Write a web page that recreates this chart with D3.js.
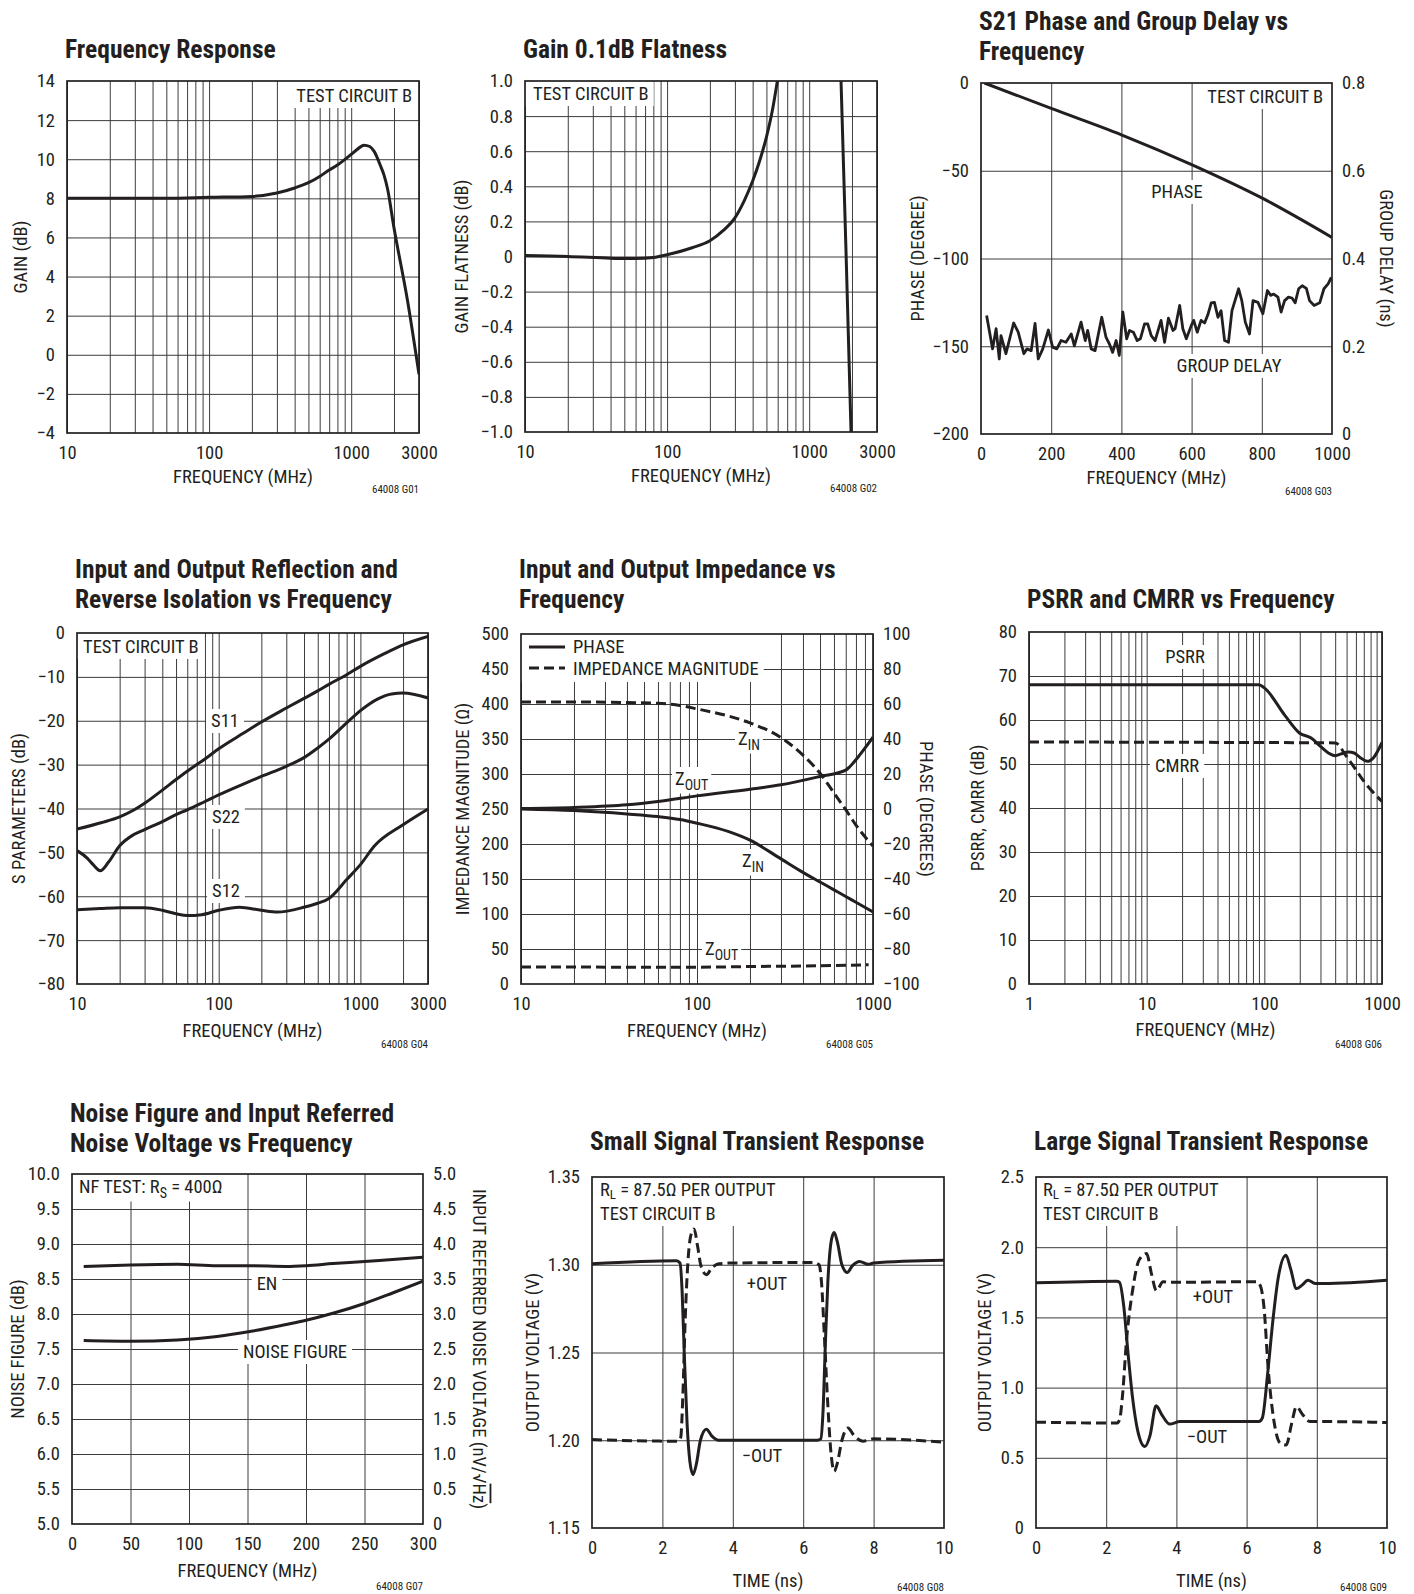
<!DOCTYPE html>
<html><head><meta charset="utf-8">
<script src="https://cdn.jsdelivr.net/npm/d3@7"></script>
<style>html,body{margin:0;padding:0;background:#fff}svg{display:block}</style>
</head><body>
<svg id="c" width="1414" height="1594"></svg>
<script>
// ================= DATA =================
// Panel 1: Frequency Response
const p1Freq = [10, 20, 50, 100, 200, 300, 400, 500, 600, 700, 800, 900, 1000, 1100, 1230, 1350, 1450, 1610, 1700, 1800, 2000, 2500, 3000];
const p1Gain = [8.0, 8.0, 8.0, 8.05, 8.1, 8.27, 8.53, 8.8, 9.12, 9.45, 9.7, 9.98, 10.25, 10.5, 10.72, 10.65, 10.4, 9.65, 9.2, 8.5, 6.5, 2.7, -1.0];
const p1XTicks = [10, 100, 1000, 3000];
const p1YTicks = [-4, -2, 0, 2, 4, 6, 8, 10, 12, 14];

// Panel 2: Gain 0.1dB Flatness
const p2FreqLo = [10, 20, 40, 50, 60, 80, 100, 150, 200, 250, 300, 350, 400, 450, 500, 550, 597];
const p2FlatLo = [0.005, 0.0, -0.01, -0.012, -0.012, -0.006, 0.01, 0.05, 0.09, 0.15, 0.22, 0.32, 0.43, 0.55, 0.68, 0.83, 1.0];
const p2FreqHi = [1675, 1820, 1970];
const p2FlatHi = [1.0, 0.0, -1.0];
const p2YTicks = [-1.0, -0.8, -0.6, -0.4, -0.2, 0, 0.2, 0.4, 0.6, 0.8, 1.0];

// Panel 3: S21 Phase and Group Delay
const p3PhaseFreq = [10, 200, 400, 600, 800, 1000];
const p3Phase = [0, -14.5, -29.5, -46.5, -65.5, -88];
const p3GdFreq = [16, 33, 43, 52, 57, 71, 93, 106, 122, 131, 143, 154, 163, 176, 192, 204, 216, 228, 242, 257, 266, 285, 297, 304, 314, 325, 344, 356, 366, 375, 385, 394, 404, 415, 423, 434, 445, 454, 466, 475, 485, 496, 513, 523, 534, 547, 553, 566, 575, 585, 599, 606, 616, 627, 637, 646, 656, 665, 675, 684, 694, 705, 715, 734, 743, 753, 765, 775, 789, 803, 816, 825, 834, 846, 855, 865, 876, 886, 895, 905, 915, 927, 936, 949, 965, 977, 989, 998];
const p3Gd = [0.27, 0.194, 0.24, 0.171, 0.224, 0.183, 0.253, 0.232, 0.183, 0.194, 0.19, 0.252, 0.171, 0.194, 0.237, 0.198, 0.194, 0.213, 0.209, 0.228, 0.201, 0.255, 0.213, 0.236, 0.194, 0.19, 0.266, 0.221, 0.205, 0.186, 0.213, 0.179, 0.278, 0.217, 0.236, 0.232, 0.213, 0.217, 0.251, 0.251, 0.224, 0.213, 0.259, 0.209, 0.264, 0.236, 0.24, 0.293, 0.24, 0.217, 0.247, 0.259, 0.232, 0.259, 0.253, 0.271, 0.299, 0.3, 0.266, 0.281, 0.213, 0.209, 0.281, 0.331, 0.304, 0.255, 0.228, 0.304, 0.3, 0.274, 0.327, 0.316, 0.319, 0.312, 0.278, 0.304, 0.312, 0.31, 0.299, 0.331, 0.338, 0.332, 0.304, 0.293, 0.299, 0.331, 0.342, 0.357];
const p3XTicks = [0, 200, 400, 600, 800, 1000];
const p3YTicks = [-200, -150, -100, -50, 0];
const p3Y2Ticks = [0, 0.2, 0.4, 0.6, 0.8];

// Panel 4: S parameters
const p4S11Freq = [10, 15, 20, 25, 30, 40, 50, 60, 80, 100, 150, 200, 300, 400, 500, 600, 800, 1000, 1500, 2000, 3000];
const p4S11 = [-44.7, -43.2, -41.9, -40.4, -38.8, -35.8, -33.4, -31.5, -28.7, -26.4, -22.8, -20.3, -17.1, -14.9, -13.2, -11.7, -9.5, -7.6, -4.6, -2.7, -0.8];
const p4S22Freq = [10, 11.8, 13, 14.6, 16.7, 20, 25, 30, 40, 50, 60, 80, 100, 145, 200, 300, 400, 500, 600, 800, 1000, 1330, 1660, 2000, 3000];
const p4S22 = [-49.6, -51.3, -52.8, -54.2, -52.2, -48.5, -46, -44.8, -43, -41.4, -40.3, -38.4, -36.9, -34.6, -32.7, -30.4, -28.4, -26.2, -24.2, -20.5, -17.7, -15, -13.9, -13.7, -14.8];
const p4S12Freq = [10, 14.6, 20, 30, 40, 50, 60, 76, 100, 140, 200, 260, 400, 500, 600, 800, 1000, 1250, 2000, 3000];
const p4S12 = [-63.1, -62.8, -62.6, -62.6, -63.2, -64, -64.4, -64.2, -63.2, -62.5, -63.2, -63.6, -62.5, -61.6, -60.5, -56.2, -52.8, -48.6, -43.7, -40.1];
const p4YTicks = [-80, -70, -60, -50, -40, -30, -20, -10, 0];

// Panel 5: Input and Output Impedance
const p5ZinFreq = [10, 20, 40, 60, 80, 100, 150, 200, 300, 400, 500, 600, 700, 800, 1000];
const p5ZinMag = [403, 403, 402, 401, 398, 393, 383, 373, 352, 327, 301, 273, 249, 227, 197];
const p5ZinPhase = [0, -0.9, -2.8, -4.3, -6, -8.1, -12.8, -17.8, -28.5, -36.2, -41.7, -46.2, -50.0, -53.3, -58.8];
const p5ZoutPhFreq = [10, 20, 40, 60, 100, 200, 300, 500, 700, 740, 850, 1000];
const p5ZoutPhase = [0.3, 0.9, 2.4, 4.3, 7.5, 11.3, 13.8, 18.6, 22.2, 24.3, 31.5, 41];
const p5ZoutMagFreq = [10, 100, 200, 500, 944];
const p5ZoutMag = [24.3, 24, 25, 26, 27.6];
const p5XTicks = [10, 100, 1000];
const p5YTicks = [0, 50, 100, 150, 200, 250, 300, 350, 400, 450, 500];
const p5Y2Ticks = [-100, -80, -60, -40, -20, 0, 20, 40, 60, 80, 100];

// Panel 6: PSRR and CMRR
const p6PsrrFreq = [1, 90, 100, 150, 200, 250, 300, 350, 400, 450, 520, 580, 650, 750, 850, 1000];
const p6Psrr = [68, 68, 67.3, 61, 57, 55.9, 54, 52.5, 51.9, 52.3, 52.7, 52.5, 51.5, 50.6, 51.5, 54.9];
const p6CmrrFreq = [1, 400, 500, 600, 700, 800, 1000];
const p6Cmrr = [55, 54.8, 51.7, 48.7, 46.1, 44.2, 41.5];
const p6XTicks = [1, 10, 100, 1000];
const p6YTicks = [0, 10, 20, 30, 40, 50, 60, 70, 80];

// Panel 7: Noise Figure and EN
const p7Freq = [10, 50, 90, 124, 152, 183, 200, 223, 250, 274, 300];
const p7En = [3.68, 3.70, 3.71, 3.69, 3.69, 3.68, 3.69, 3.72, 3.75, 3.78, 3.81];
const p7Nf = [7.62, 7.61, 7.63, 7.68, 7.75, 7.85, 7.91, 8.01, 8.15, 8.30, 8.47];
const p7XTicks = [0, 50, 100, 150, 200, 250, 300];
const p7YTicks = [5.0, 5.5, 6.0, 6.5, 7.0, 7.5, 8.0, 8.5, 9.0, 9.5, 10.0];
const p7Y2Ticks = [0, 0.5, 1.0, 1.5, 2.0, 2.5, 3.0, 3.5, 4.0, 4.5, 5.0];

// Panel 8: Small Signal Transient
const p8SolidT = [0, 2.4, 2.5, 2.56, 2.62, 2.7, 2.78, 2.87, 2.97, 3.08, 3.25, 3.4, 3.6, 4, 6.4, 6.5, 6.56, 6.63, 6.7, 6.8, 6.88, 6.97, 7.1, 7.25, 7.4, 7.6, 7.85, 8, 10];
const p8SolidV = [1.3006, 1.3023, 1.301, 1.285, 1.25, 1.21, 1.188, 1.1804, 1.187, 1.2, 1.2063, 1.2025, 1.2, 1.2, 1.2, 1.2008, 1.215, 1.255, 1.29, 1.314, 1.3184, 1.313, 1.3, 1.2956, 1.2995, 1.3019, 1.3003, 1.301, 1.3025];
const p8DashT = [0, 2, 2.45, 2.52, 2.58, 2.65, 2.72, 2.8, 2.9, 3.0, 3.1, 3.25, 3.4, 3.6, 4, 6.3, 6.45, 6.52, 6.6, 6.7, 6.78, 6.88, 6.97, 7.1, 7.27, 7.45, 7.7, 8, 10];
const p8DashV = [1.2004, 1.1995, 1.1995, 1.2015, 1.225, 1.27, 1.30, 1.316, 1.3204, 1.3105, 1.299, 1.2943, 1.2981, 1.3006, 1.301, 1.3013, 1.3, 1.29, 1.26, 1.22, 1.195, 1.1823, 1.187, 1.2, 1.207, 1.2025, 1.1995, 1.2008, 1.1989];
const p8XTicks = [0, 2, 4, 6, 8, 10];
const p8YTicks = [1.15, 1.20, 1.25, 1.30, 1.35];

// Panel 9: Large Signal Transient
const p9SolidT = [0, 2.3, 2.38, 2.5, 2.62, 2.75, 2.9, 3.1, 3.25, 3.42, 3.6, 3.81, 4.1, 6.35, 6.45, 6.6, 6.75, 6.9, 7.12, 7.25, 7.42, 7.58, 7.75, 7.95, 8.2, 10];
const p9SolidV = [1.746, 1.758, 1.75, 1.58, 1.25, 0.93, 0.69, 0.58, 0.66, 0.87, 0.80, 0.74, 0.758, 0.758, 0.785, 1.10, 1.48, 1.78, 1.943, 1.85, 1.705, 1.73, 1.765, 1.742, 1.742, 1.765];
const p9DashT = [0, 2.3, 2.38, 2.46, 2.58, 2.75, 2.94, 3.15, 3.29, 3.43, 3.62, 3.85, 6.3, 6.4, 6.5, 6.61, 6.76, 6.96, 7.13, 7.28, 7.42, 7.6, 7.8, 8.2, 10];
const p9DashV = [0.754, 0.747, 0.77, 0.93, 1.34, 1.69, 1.91, 1.955, 1.81, 1.69, 1.754, 1.75, 1.754, 1.72, 1.56, 1.15, 0.794, 0.604, 0.592, 0.74, 0.865, 0.806, 0.758, 0.758, 0.751];
const p9XTicks = [0, 2, 4, 6, 8, 10];
const p9YTicks = [0, 0.5, 1.0, 1.5, 2.0, 2.5];

// ================= DRAWING =================
const INK = '#231f20';
const GRID = '#3c3c3c';
const FONT = '"Liberation Sans Narrow","Arial Narrow","Roboto Condensed","DejaVu Sans Condensed",sans-serif';
const FS = 18.5;
const svg = d3.select('#c').attr('font-family', FONT).attr('fill', INK);
svg.append('rect').attr('width', 1414).attr('height', 1594).attr('fill', '#fff');
const defs = svg.append('defs');
let clipN = 0;

function logGrid(a, b) {
  const out = [];
  for (let e = Math.floor(Math.log10(a)); Math.pow(10, e) <= b * 1.0001; e++) {
    for (let k = 1; k < 10; k++) {
      const v = +(k * Math.pow(10, e)).toPrecision(6);
      if (v >= a * 0.9999 && v <= b * 1.0001) out.push(v);
    }
  }
  return out;
}
function fmt(dec) {
  return v => {
    if (Math.abs(v) < 1e-9) return '0';
    return (v < 0 ? '\u2212' : '') + Math.abs(v).toFixed(dec);
  };
}
function fmtKeep(dec) {
  return v => (v < -1e-9 ? '\u2212' : '') + Math.abs(v).toFixed(dec);
}
function styleAxis(a) {
  a.select('.domain').remove();
  a.attr('font-family', FONT).attr('font-size', FS);
  a.selectAll('text').attr('fill', INK);
}
// segs: strings, {sub}, {over}
function addSegs(t, segs, subDy = 4.5, subSize = 14) {
  let shift = 0;
  segs.forEach(s => {
    if (typeof s === 'string') {
      const ts = t.append('tspan').text(s);
      if (shift) { ts.attr('dy', -shift); shift = 0; }
    } else if (s.sub) {
      t.append('tspan').attr('dy', subDy).attr('font-size', subSize).text(s.sub);
      shift = subDy;
    } else if (s.over) {
      t.append('tspan').attr('text-decoration', 'overline').text(s.over);
    }
  });
  return t;
}

function makePanel(o) {
  const g = svg.append('g');
  const W = o.x1 - o.x0, H = o.y1 - o.y0;
  const P = { o, g };
  P.x = o.xScale.range([o.x0, o.x1]);
  P.y = o.yScale.range([o.y1, o.y0]);
  if (o.y2Scale) P.y2 = o.y2Scale.range([o.y1, o.y0]);
  const id = 'clip' + (++clipN);
  defs.append('clipPath').attr('id', id).append('rect')
    .attr('x', o.x0).attr('y', o.y0).attr('width', W).attr('height', H);

  const gx = g.append('g').attr('transform', `translate(0,${o.y1})`)
    .call(d3.axisBottom(P.x).tickValues(o.xGrid).tickSize(-H).tickFormat(''));
  const gy = g.append('g').attr('transform', `translate(${o.x0},0)`)
    .call(d3.axisLeft(P.y).tickValues(o.yGrid).tickSize(-W).tickFormat(''));
  [gx, gy].forEach(a => { a.select('.domain').remove(); a.selectAll('line').attr('stroke', GRID).attr('stroke-width', 1); });

  P.mask = g.append('g');
  g.append('rect').attr('x', o.x0).attr('y', o.y0).attr('width', W).attr('height', H)
    .attr('fill', 'none').attr('stroke', INK).attr('stroke-width', 1.7);
  P.data = g.append('g').attr('clip-path', `url(#${id})`);
  P.text = g.append('g').attr('font-size', FS);

  const lx = g.append('g').attr('transform', `translate(0,${o.y1})`)
    .call(d3.axisBottom(P.x).tickValues(o.xTicks).tickSize(0).tickPadding(13).tickFormat(o.xFmt || (v => String(v))));
  styleAxis(lx);
  const ly = g.append('g').attr('transform', `translate(${o.x0},0)`)
    .call(d3.axisLeft(P.y).tickValues(o.yTicks).tickSize(0).tickPadding(12).tickFormat(o.yFmt));
  styleAxis(ly);
  if (o.y2Scale) {
    const ly2 = g.append('g').attr('transform', `translate(${o.x1},0)`)
      .call(d3.axisRight(P.y2).tickValues(o.y2Ticks).tickSize(0).tickPadding(10).tickFormat(o.y2Fmt));
    styleAxis(ly2);
  }

  o.title.forEach((t, i) => g.append('text').attr('x', o.x0 - 2).attr('y', o.titleY + i * 29.5)
    .attr('font-weight', 'bold').attr('font-size', 25.5).attr('fill', INK).text(t));
  g.append('text').attr('x', (o.x0 + o.x1) / 2).attr('y', o.y1 + o.xtDy)
    .attr('text-anchor', 'middle').attr('font-size', FS).attr('fill', INK).text(o.xTitle);
  const cy = (o.y0 + o.y1) / 2;
  addSegs(g.append('text').attr('transform', `translate(${o.ytX + 6.6},${cy}) rotate(-90)`)
    .attr('text-anchor', 'middle').attr('font-size', FS).attr('fill', INK), o.yTitle);
  if (o.y2Title) {
    addSegs(g.append('text').attr('transform', `translate(${o.y2tX - 6.6},${cy}) rotate(90)`)
      .attr('text-anchor', 'middle').attr('font-size', FS).attr('fill', INK), o.y2Title);
  }
  g.append('text').attr('x', o.x1).attr('y', Math.min(o.y1 + o.footDy, 1591))
    .attr('text-anchor', 'end').attr('font-size', 11).attr('fill', INK).text(o.foot);
  return P;
}

// lines: array of seg-arrays, each line its own text element
function note(P, x, y, lines, opt = {}) {
  const o = P.o;
  const grp = P.text.append('g');
  const lh = opt.lh || 21;
  lines.forEach((segs, i) => {
    addSegs(grp.append('text').attr('x', x).attr('y', y + i * lh)
      .attr('text-anchor', opt.anchor || 'start').attr('fill', INK), segs, opt.subDy, opt.subSize);
  });
  const b = grp.node().getBBox();
  const px = opt.px == null ? 5 : opt.px, py = opt.py == null ? 1 : opt.py;
  let x0 = b.x - px, x1 = b.x + b.width + px, y0 = b.y - py, y1 = b.y + b.height + py;
  if (opt.top) y0 = o.y0;
  if (opt.left) x0 = o.x0;
  if (opt.right) x1 = o.x1;
  P.mask.append('rect').attr('x', x0).attr('y', y0).attr('width', x1 - x0).attr('height', y1 - y0).attr('fill', '#fff');
  return grp;
}

function plot(P, xs, ys, yScale, opt = {}) {
  const data = xs.map((v, i) => [v, ys[i]]);
  const line = d3.line().x(d => P.x(d[0])).y(d => yScale(d[1])).curve(opt.curve || d3.curveMonotoneX);
  P.data.append('path').datum(data).attr('d', line).attr('fill', 'none')
    .attr('stroke', INK).attr('stroke-width', opt.w || 3).attr('stroke-linejoin', 'round')
    .attr('stroke-dasharray', opt.dash ? '10,5' : null);
}

// ---------- Panel 1 ----------
const P1 = makePanel({
  x0: 67, x1: 419, y0: 81, y1: 433,
  xScale: d3.scaleLog().domain([10, 3000]), yScale: d3.scaleLinear().domain([-4, 14]),
  xGrid: logGrid(10, 3000), yGrid: d3.range(-2, 14, 2),
  xTicks: p1XTicks, yTicks: p1YTicks, yFmt: fmt(0),
  title: ['Frequency Response'], titleY: 58,
  xTitle: 'FREQUENCY (MHz)', xtDy: 50, yTitle: ['GAIN (dB)'], ytX: 20,
  foot: '64008 G01', footDy: 60
});
note(P1, 412, 102, [['TEST CIRCUIT B']], { anchor: 'end', top: true, right: true });
plot(P1, p1Freq, p1Gain, P1.y);

// ---------- Panel 2 ----------
const P2 = makePanel({
  x0: 525, x1: 877, y0: 81, y1: 432,
  xScale: d3.scaleLog().domain([10, 3000]), yScale: d3.scaleLinear().domain([-1, 1]),
  xGrid: logGrid(10, 3000), yGrid: d3.range(-0.8, 0.9, 0.2),
  xTicks: p1XTicks, yTicks: p2YTicks, yFmt: v => Math.abs(v) < 1e-9 ? '0' : fmtKeep(1)(v),
  title: ['Gain 0.1dB Flatness'], titleY: 58,
  xTitle: 'FREQUENCY (MHz)', xtDy: 50, yTitle: ['GAIN FLATNESS (dB)'], ytX: 461,
  foot: '64008 G02', footDy: 60
});
note(P2, 533, 100, [['TEST CIRCUIT B']], { top: true, left: true });
plot(P2, p2FreqLo, p2FlatLo, P2.y);
plot(P2, p2FreqHi, p2FlatHi, P2.y, { curve: d3.curveLinear });

// ---------- Panel 3 ----------
const P3 = makePanel({
  x0: 981, x1: 1332, y0: 83, y1: 434,
  xScale: d3.scaleLinear().domain([0, 1000]), yScale: d3.scaleLinear().domain([-200, 0]),
  y2Scale: d3.scaleLinear().domain([0, 0.8]),
  xGrid: [200, 400, 600, 800], yGrid: [-150, -100, -50],
  xTicks: p3XTicks, yTicks: p3YTicks, yFmt: fmt(0), y2Ticks: p3Y2Ticks, y2Fmt: v => v === 0 ? '0' : v.toFixed(1),
  title: ['S21 Phase and Group Delay vs', 'Frequency'], titleY: 30,
  xTitle: 'FREQUENCY (MHz)', xtDy: 50, yTitle: ['PHASE (DEGREE)'], ytX: 917,
  y2Title: ['GROUP DELAY (ns)'], y2tX: 1387,
  foot: '64008 G03', footDy: 61
});
note(P3, 1323, 103, [['TEST CIRCUIT B']], { anchor: 'end', top: true, right: true });
note(P3, 1177, 198, [['PHASE']], { anchor: 'middle' });
note(P3, 1229, 372, [['GROUP DELAY']], { anchor: 'middle' });
plot(P3, p3PhaseFreq, p3Phase, P3.y);
plot(P3, p3GdFreq, p3Gd, P3.y2, { curve: d3.curveLinear, w: 2.8 });

// ---------- Panel 4 ----------
const P4 = makePanel({
  x0: 77, x1: 428, y0: 633, y1: 984,
  xScale: d3.scaleLog().domain([10, 3000]), yScale: d3.scaleLinear().domain([-80, 0]),
  xGrid: logGrid(10, 3000), yGrid: d3.range(-70, 0, 10),
  xTicks: p1XTicks, yTicks: p4YTicks, yFmt: fmt(0),
  title: ['Input and Output Reflection and', 'Reverse Isolation vs Frequency'], titleY: 578,
  xTitle: 'FREQUENCY (MHz)', xtDy: 53, yTitle: ['S PARAMETERS (dB)'], ytX: 18,
  foot: '64008 G04', footDy: 64
});
note(P4, 83, 653, [['TEST CIRCUIT B']], { top: true, left: true });
note(P4, 225, 727, [['S11']], { anchor: 'middle' });
note(P4, 226, 823, [['S22']], { anchor: 'middle' });
note(P4, 226, 897, [['S12']], { anchor: 'middle' });
plot(P4, p4S11Freq, p4S11, P4.y);
plot(P4, p4S22Freq, p4S22, P4.y);
plot(P4, p4S12Freq, p4S12, P4.y);

// ---------- Panel 5 ----------
const P5 = makePanel({
  x0: 521, x1: 873, y0: 634, y1: 984,
  xScale: d3.scaleLog().domain([10, 1000]), yScale: d3.scaleLinear().domain([0, 500]),
  y2Scale: d3.scaleLinear().domain([-100, 100]),
  xGrid: logGrid(10, 1000), yGrid: d3.range(50, 500, 50),
  xTicks: p5XTicks, yTicks: p5YTicks, yFmt: fmt(0), y2Ticks: p5Y2Ticks, y2Fmt: fmt(0),
  title: ['Input and Output Impedance vs', 'Frequency'], titleY: 578,
  xTitle: 'FREQUENCY (MHz)', xtDy: 53, yTitle: ['IMPEDANCE MAGNITUDE (\u03A9)'], ytX: 462,
  y2Title: ['PHASE (DEGREES)'], y2tX: 927,
  foot: '64008 G05', footDy: 64
});
{
  const lg = P5.text.append('g');
  lg.append('line').attr('x1', 529).attr('x2', 565).attr('y1', 647).attr('y2', 647)
    .attr('stroke', INK).attr('stroke-width', 3);
  lg.append('line').attr('x1', 529).attr('x2', 565).attr('y1', 668).attr('y2', 668)
    .attr('stroke', INK).attr('stroke-width', 3).attr('stroke-dasharray', '10,5');
  lg.append('text').attr('x', 573).attr('y', 653).attr('fill', INK).text('PHASE');
  lg.append('text').attr('x', 573).attr('y', 675).attr('fill', INK).text('IMPEDANCE MAGNITUDE');
  const b = lg.node().getBBox();
  P5.mask.append('rect').attr('x', 521).attr('y', 634).attr('width', b.x + b.width + 5 - 521)
    .attr('height', b.y + b.height + 2 - 634).attr('fill', '#fff');
}
note(P5, 738, 745, [['Z', { sub: 'IN' }]], { px: 3 });
note(P5, 675, 785, [['Z', { sub: 'OUT' }]], { px: 3 });
note(P5, 742, 867, [['Z', { sub: 'IN' }]], { px: 3 });
note(P5, 705, 955, [['Z', { sub: 'OUT' }]], { px: 3 });
plot(P5, p5ZinFreq, p5ZinMag, P5.y, { dash: true });
plot(P5, p5ZoutMagFreq, p5ZoutMag, P5.y, { dash: true });
plot(P5, p5ZinFreq, p5ZinPhase, P5.y2);
plot(P5, p5ZoutPhFreq, p5ZoutPhase, P5.y2);

// ---------- Panel 6 ----------
const P6 = makePanel({
  x0: 1029, x1: 1382, y0: 632, y1: 984,
  xScale: d3.scaleLog().domain([1, 1000]), yScale: d3.scaleLinear().domain([0, 80]),
  xGrid: logGrid(1, 1000), yGrid: d3.range(10, 80, 10),
  xTicks: p6XTicks, yTicks: p6YTicks, yFmt: fmt(0),
  title: ['PSRR and CMRR vs Frequency'], titleY: 608,
  xTitle: 'FREQUENCY (MHz)', xtDy: 52, yTitle: ['PSRR, CMRR (dB)'], ytX: 977,
  foot: '64008 G06', footDy: 64
});
note(P6, 1185, 663, [['PSRR']], { anchor: 'middle' });
note(P6, 1177, 772, [['CMRR']], { anchor: 'middle' });
plot(P6, p6PsrrFreq, p6Psrr, P6.y);
plot(P6, p6CmrrFreq, p6Cmrr, P6.y, { dash: true });

// ---------- Panel 7 ----------
const P7 = makePanel({
  x0: 72, x1: 423, y0: 1174, y1: 1524,
  xScale: d3.scaleLinear().domain([0, 300]), yScale: d3.scaleLinear().domain([5, 10]),
  y2Scale: d3.scaleLinear().domain([0, 5]),
  xGrid: [50, 100, 150, 200, 250], yGrid: d3.range(5.5, 10, 0.5),
  xTicks: p7XTicks, yTicks: p7YTicks, yFmt: fmtKeep(1), y2Ticks: p7Y2Ticks, y2Fmt: v => v === 0 ? '0' : v.toFixed(1),
  title: ['Noise Figure and Input Referred', 'Noise Voltage vs Frequency'], titleY: 1122,
  xTitle: 'FREQUENCY (MHz)', xtDy: 53, yTitle: ['NOISE FIGURE (dB)'], ytX: 17,
  y2Title: ['INPUT REFERRED NOISE VOLTAGE (nV/\u221A', { over: 'Hz' }, ')'], y2tX: 480,
  foot: '64008 G07', footDy: 66
});
note(P7, 79, 1193, [['NF TEST: R', { sub: 'S' }, ' = 400\u03A9']], { top: true, left: true });
note(P7, 267, 1290, [['EN']], { anchor: 'middle' });
note(P7, 295, 1358, [['NOISE FIGURE']], { anchor: 'middle' });
plot(P7, p7Freq, p7En, P7.y2);
plot(P7, p7Freq, p7Nf, P7.y);

// ---------- Panel 8 ----------
const P8 = makePanel({
  x0: 592, x1: 944, y0: 1177, y1: 1528,
  xScale: d3.scaleLinear().domain([0, 10]), yScale: d3.scaleLinear().domain([1.15, 1.35]),
  xGrid: [2, 4, 6, 8], yGrid: [1.20, 1.25, 1.30],
  xTicks: p8XTicks, yTicks: p8YTicks, yFmt: v => v.toFixed(2),
  title: ['Small Signal Transient Response'], titleY: 1150,
  xTitle: 'TIME (ns)', xtDy: 59, yTitle: ['OUTPUT VOLTAGE (V)'], ytX: 532,
  foot: '64008 G08', footDy: 64
});
note(P8, 600, 1196, [['R', { sub: 'L' }, ' = 87.5\u03A9 PER OUTPUT'], ['TEST CIRCUIT B']],
  { top: true, left: true, lh: 24, subDy: 2.5, subSize: 13 });
note(P8, 767, 1290, [['+OUT']], { anchor: 'middle' });
note(P8, 762, 1462, [['\u2212OUT']], { anchor: 'middle' });
plot(P8, p8DashT, p8DashV, P8.y, { dash: true });
plot(P8, p8SolidT, p8SolidV, P8.y);

// ---------- Panel 9 ----------
const P9 = makePanel({
  x0: 1036, x1: 1387, y0: 1177, y1: 1528,
  xScale: d3.scaleLinear().domain([0, 10]), yScale: d3.scaleLinear().domain([0, 2.5]),
  xGrid: [2, 4, 6, 8], yGrid: [0.5, 1.0, 1.5, 2.0],
  xTicks: p9XTicks, yTicks: p9YTicks, yFmt: v => v === 0 ? '0' : v.toFixed(1),
  title: ['Large Signal Transient Response'], titleY: 1150,
  xTitle: 'TIME (ns)', xtDy: 59, yTitle: ['OUTPUT VOLTAGE (V)'], ytX: 984,
  foot: '64008 G09', footDy: 64
});
note(P9, 1043, 1196, [['R', { sub: 'L' }, ' = 87.5\u03A9 PER OUTPUT'], ['TEST CIRCUIT B']],
  { top: true, left: true, lh: 24, subDy: 2.5, subSize: 13 });
note(P9, 1213, 1303, [['+OUT']], { anchor: 'middle' });
note(P9, 1207, 1443, [['\u2212OUT']], { anchor: 'middle' });
plot(P9, p9DashT, p9DashV, P9.y, { dash: true });
plot(P9, p9SolidT, p9SolidV, P9.y);
</script>
</body></html>
